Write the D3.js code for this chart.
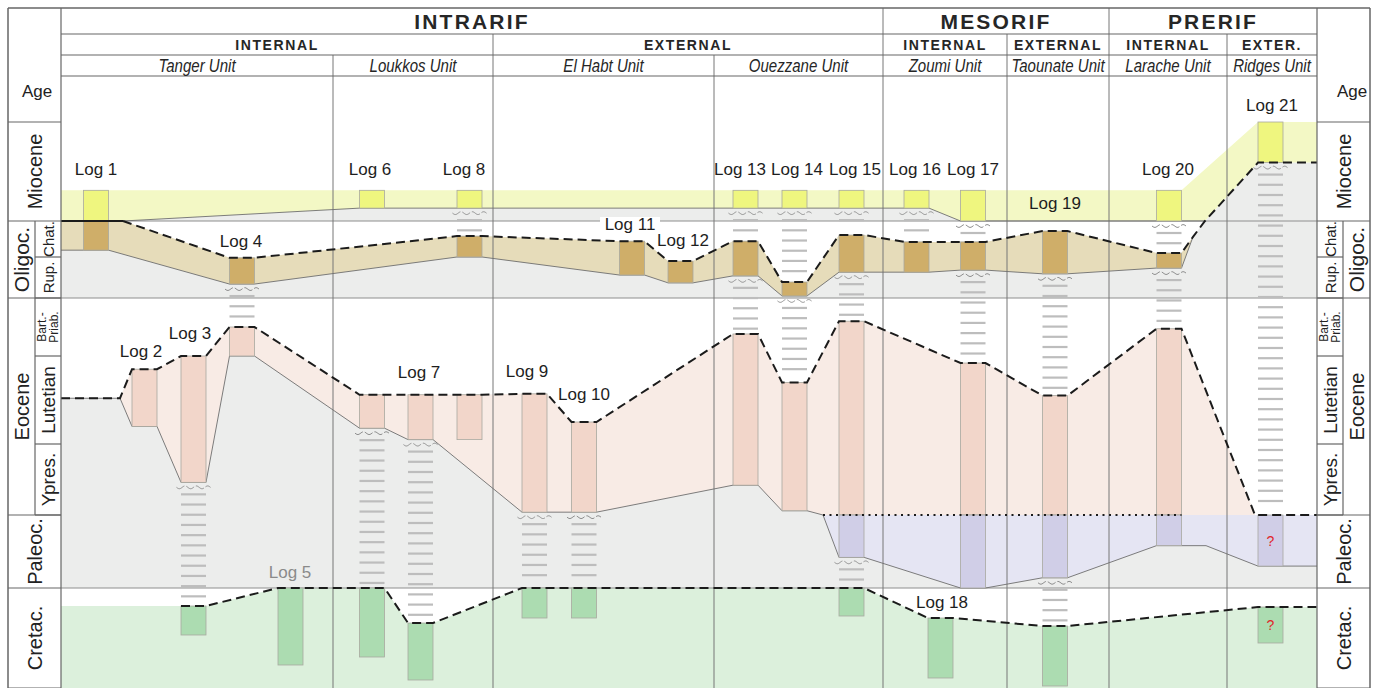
<!DOCTYPE html>
<html>
<head>
<meta charset="utf-8">
<script src="https://cdn.jsdelivr.net/npm/d3@7"></script>
<style>
body { margin: 0; background: #fff; }
svg { display: block; }
text { font-family: "Liberation Sans", Arial, sans-serif; }
</style>
</head>
<body>
<div id="chart"></div>
<script>
// x = distance along the section (arbitrary units), y = stratigraphic level
// (0 = top Miocene, 1 = top Oligocene/Chattian, 2 = Rupelian, 3 = top Eocene,
//  4 = top Lutetian, 5 = top Ypresian, 6 = top Paleocene, 7 = top Cretaceous)
var logNames = ["Log 1","Log 2","Log 3","Log 4","Log 5","Log 6","Log 7","Log 8","Log 9","Log 10",
                "Log 11","Log 12","Log 13","Log 14","Log 15","Log 16","Log 17","Log 18","Log 19","Log 20","Log 21"];
var logX = [17.5, 41.75, 66.25, 90.5, 114.75, 155.5, 179.75, 204.25, 236.75, 261.5,
            285.5, 309.75, 342.25, 366.75, 395.25, 427.75, 456, 439.75, 497, 554, 604.75];
var labelX = [17.5, 40, 64.5, 90, 114.5, 154.5, 179, 201.5, 233, 261.5,
              284.5, 311, 339.5, 368, 397, 427, 456, 440.5, 497, 553.5, 605.5];
var labelY = [0.48, 3.93, 3.62, 1.58, 6.79, 0.48, 4.19, 0.48, 4.18, 4.44,
              1.11, 1.53, 0.48, 0.48, 0.48, 0.48, 0.48, 7.14, 0.82, 0.48, -0.17];

// [log number, top level, base level, flag]
var miocene = [[1,0.69,1.0],[6,0.69,0.87],[8,0.69,0.87],[13,0.69,0.87],[14,0.69,0.87],
               [15,0.69,0.87],[16,0.69,0.87],[17,0.69,1.0],[20,0.69,1.0],[21,0,0.41]];
var oligocene = [[1,1.0,1.81],[4,2.02,2.66],[8,1.42,2.0],[11,1.56,2.44],[12,2.10,2.63],[13,1.56,2.46],
                 [14,2.61,2.95],[15,1.39,2.37],[16,1.58,2.37],[17,1.58,2.32],[19,1.28,2.41],[20,1.89,2.27]];
var eocene = [[2,4.15,4.80],[3,4.0,5.54],[4,3.50,4.0],[6,4.44,4.82],[7,4.44,4.95],[8,4.44,4.95],
              [9,4.43,5.96],[10,4.75,5.96],[13,3.62,5.58],[14,4.30,5.94],[15,3.40,6.0],[17,4.08,6.0],
              [19,4.45,6.0],[20,3.53,6.0]];
var paleocene = [[15,6.0,6.58],[17,6.0,7.0],[19,6.0,6.86],[20,6.0,6.42],[21,6.0,6.70,"?"]];
var cretaceous = [[3,7.18,7.47],[5,7.0,7.77],[6,7.0,7.69],[7,7.35,7.92],[9,7.0,7.30],[10,7.0,7.30],
                  [15,7.0,7.28],[18,7.30,7.90],[19,7.38,7.98],[21,7.19,7.55,"?"]];
var eoceneFloating = [8];

// envelope points between the logs
var mioTopExtra = [[0,0.69],[628,0]];
var mioBaseExtra = [[0,1.0],[31,1.0],[572,1.0],[628,0.41]];
var oliTopExtra = [[0,1.0],[31,1.0],[566,1.44]];
var oliBaseExtra = [[0,1.81],[566,1.44]];
var eoTopExtra = [[0,4.48],[29.5,4.48],[597,6.0],[628,6.0]];
var eoBaseExtra = [[0,4.48],[29.5,4.48],[381,6.0],[597,6.0]];
var paTopExtra = [[381,6.0],[628,6.0]];
var paBaseExtra = [[381,6.0],[572.5,6.42],[628,6.70]];
var crTopExtra = [[0,7.18],[628,7.19]];

// hiatus intervals shown with dashes: [log, from, to]
var hiatus = [[3,5.54,7.18],[4,2.66,3.50],[6,4.82,7.0],[7,4.95,7.35],[8,0.87,1.42],[9,5.96,7.0],
              [10,5.96,7.0],[13,0.87,1.56],[13,2.46,3.62],[14,0.87,2.61],[14,2.95,4.30],[15,0.87,1.39],
              [15,2.37,3.40],[15,6.58,7.0],[16,0.87,1.58],[17,1.0,1.58],[17,2.32,4.08],[19,2.41,4.45],
              [19,6.86,7.38],[20,1.0,1.89],[20,2.27,3.53],[21,0.41,6.0]];

var groups = [["INTRARIF",0,411],["MESORIF",411,524],["PRERIF",524,628]];
var zones = [["INTERNAL",0,216],["EXTERNAL",216,411],["INTERNAL",411,473],["EXTERNAL",473,524],
             ["INTERNAL",524,583],["EXTER.",583,628]];
var units = [["Tanger Unit",0,136],["Loukkos Unit",136,216],["El Habt Unit",216,326.5],
             ["Ouezzane Unit",326.5,411],["Zoumi Unit",411,473],["Taounate Unit",473,524],
             ["Larache Unit",524,583],["Ridges Unit",583,628]];
var epochs = [["Miocene",0,1,true],["Oligoc.",1,3,false],["Eocene",3,6,false],
              ["Paleoc.",6,7,true],["Cretac.",7,8,true]];
var stageNames = [["Chat.",1,2],["Rup.",2,3],["Bart.-|Priab.",3,4],["Lutetian",4,5],["Ypres.",5,6]];

var width = 1375, height = 688;
var svg = d3.select("#chart").append("svg").attr("width", width).attr("height", height);

var x = d3.scaleLinear().domain([0, 628]).range([61, 1317]);
var y = d3.scaleLinear().domain([0,1,2,3,4,5,6,7,8]).range([122,221,257,298,356,444,515,588,688]);
var hw = 6.25;   // half width of a log column
var line = d3.line().x(function(d){ return x(d[0]); }).y(function(d){ return y(d[1]); });

var edge = function(boxes, extra, k, skip){
    var pts = extra.map(function(p){ return p.slice(); });
    boxes.forEach(function(b){
        if (skip && skip.indexOf(b[0]) >= 0) return;
        var c = logX[b[0]-1];
        pts.push([c-hw, b[k]], [c+hw, b[k]]);
    });
    pts.sort(function(a, b){ return a[0]-b[0]; });
    return pts;
};

var mioTop = edge(miocene, mioTopExtra, 1), mioBase = edge(miocene, mioBaseExtra, 2);
var oliTop = edge(oligocene, oliTopExtra, 1), oliBase = edge(oligocene, oliBaseExtra, 2);
var eoTop = edge(eocene, eoTopExtra, 1), eoBase = edge(eocene, eoBaseExtra, 2, eoceneFloating);
var paTop = edge(paleocene, paTopExtra, 1), paBase = edge(paleocene, paBaseExtra, 2);
var crTop = edge(cretaceous, crTopExtra, 1);

var gray = "#ecedec";
var poly = function(pts, fill){
    svg.append("path").attr("d", line(pts) + "Z").attr("fill", fill).attr("stroke", "none");
};

// background: hiatus grey, then white above erosion surfaces
poly(mioBase.concat([[628,7],[0,7]]), gray);
poly(oliTop.concat([[572,1]]), "#fff");
poly(eoTop.concat([[628,3],[0,3]]), "#fff");
poly(crTop.concat([[628,7],[0,7]]), "#fff");

// formation envelopes
poly(mioTop.concat(mioBase.slice().reverse()), "#f3f8c5");
poly(oliTop.concat(oliBase.slice().reverse()), "#e6dcba");
poly(eoTop.concat(eoBase.slice().reverse()), "#f8ebe5");
poly(paTop.concat(paBase.slice().reverse()), "#e5e5f3");
poly(crTop.concat([[628,8],[0,8]]), "#dcf0dc");

// stripe lines
[1, 3, 7].forEach(function(l){
    svg.append("line").attr("x1", x(0)).attr("x2", x(628)).attr("y1", y(l)).attr("y2", y(l))
        .attr("stroke", "#8e8e8e").attr("stroke-width", 1);
});

// unit dividers
var groupB = groups.map(function(g){ return g[2]; });
var zoneB = zones.map(function(z){ return z[2]; });
units.slice(0, -1).forEach(function(u){
    var b = u[2];
    var top = groupB.indexOf(b) >= 0 ? 8 : (zoneB.indexOf(b) >= 0 ? 34 : 55);
    svg.append("line").attr("x1", x(b)).attr("x2", x(b)).attr("y1", top).attr("y2", height)
        .attr("stroke", "#777").attr("stroke-width", 1);
});

// base contacts
var thin = function(pts){
    svg.append("path").attr("d", line(pts)).attr("fill", "none")
        .attr("stroke", "#6e6e6e").attr("stroke-width", 0.9);
};
thin(mioBase.filter(function(p){ return p[0] >= 31 && p[0] <= 572; }));
thin(oliBase);
thin(eoBase.filter(function(p){ return p[0] <= 381; }));
thin(paBase);

// hiatus dashes and wavy unconformity marks
hiatus.forEach(function(h){
    var c = x(logX[h[0]-1]), t = y(h[1]), b = y(h[2]);
    for (var yy = t + 12; yy <= b - 5; yy += 10.2) {
        svg.append("line").attr("x1", c-12.5).attr("x2", c+12.5).attr("y1", yy).attr("y2", yy)
            .attr("stroke", "#bdbdbd").attr("stroke-width", 2.2);
    }
    var wave = d3.range(0, 35, 1).map(function(i){
        return [c - 17 + i, t + 5 + 1.4*Math.sin(i/34*3*2*Math.PI)];
    });
    svg.append("path").attr("d", d3.line()(wave)).attr("fill", "none")
        .attr("stroke", "#8f8f8f").attr("stroke-width", 1).attr("stroke-dasharray", "9,2");
});

// log columns
var drawBoxes = function(boxes, fill){
    boxes.forEach(function(b){
        var c = logX[b[0]-1];
        svg.append("rect")
            .attr("x", x(c-hw)).attr("y", y(b[1]))
            .attr("width", x(c+hw)-x(c-hw)).attr("height", y(b[2])-y(b[1]))
            .attr("fill", fill).attr("stroke", "#a9a9a0").attr("stroke-width", 0.8);
        if (b[3] == "?") {
            svg.append("text").attr("x", x(c)).attr("y", (y(b[1])+y(b[2]))/2)
                .attr("text-anchor", "middle").attr("dominant-baseline", "central")
                .attr("font-size", 14).attr("fill", "#e0262b").text("?");
        }
    });
};
drawBoxes(miocene, "#eff67f");
drawBoxes(oligocene, "#cfae69");
drawBoxes(eocene, "#f2d6ca");
drawBoxes(paleocene, "#d0cee7");
drawBoxes(cretaceous, "#acdcb1");

// erosion surfaces
var dashed = function(pts){
    svg.append("path").attr("d", line(pts)).attr("fill", "none")
        .attr("stroke", "#1b1b1b").attr("stroke-width", 2).attr("stroke-dasharray", "9,5");
};
svg.append("path").attr("d", line(oliTop.filter(function(p){ return p[0] <= 31; })))
    .attr("fill", "none").attr("stroke", "#1b1b1b").attr("stroke-width", 2);
dashed(oliTop.filter(function(p){ return p[0] >= 31; })
    .concat(mioBase.filter(function(p){ return p[0] >= 572; })));
dashed(eoTop);
dashed(crTop.filter(function(p){ return p[0] >= 3; }));
svg.append("path").attr("d", line(paTop.filter(function(p){ return p[0] <= 597; })))
    .attr("fill", "none").attr("stroke", "#1b1b1b").attr("stroke-width", 2)
    .attr("stroke-dasharray", "2,4.5");

// log labels
logNames.forEach(function(n, i){
    var lx = x(labelX[i]), ly = y(labelY[i]);
    if (n == "Log 11") {
        svg.append("rect").attr("x", lx-30).attr("y", ly-8).attr("width", 60).attr("height", 16)
            .attr("fill", "#fff");
    }
    svg.append("text").attr("x", lx).attr("y", ly)
        .attr("text-anchor", "middle").attr("dominant-baseline", "central")
        .attr("font-size", 17).attr("fill", n == "Log 5" ? "#8a8a8a" : "#1e1e1e").text(n);
});

// header
var frame = function(x1, y1, x2, y2, w){
    svg.append("line").attr("x1", x1).attr("y1", y1).attr("x2", x2).attr("y2", y2)
        .attr("stroke", "#666").attr("stroke-width", w || 1.2);
};
[8, 34, 55, 76].forEach(function(yy, i){ frame(i == 0 ? 8 : 61, yy, i == 0 ? 1370 : 1317, yy, i == 0 ? 1.5 : 1.2); });
frame(8, 8, 8, height, 1.5); frame(1370, 8, 1370, height, 1.5);
frame(61, 8, 61, height); frame(1317, 8, 1317, height);

var headRow = function(rows, cy, size, weight, style, spacing, squeeze){
    rows.forEach(function(r){
        var cx = (x(r[1]) + x(r[2]))/2;
        svg.append("text")
            .attr("transform", "translate(" + cx + "," + cy + ") scale(" + squeeze + ",1)")
            .attr("text-anchor", "middle").attr("dominant-baseline", "central")
            .attr("font-size", size).attr("font-weight", weight).attr("font-style", style)
            .attr("letter-spacing", spacing).attr("fill", "#262626").text(r[0]);
    });
};
headRow(groups, 21.5, 21, "bold", "normal", 2.2, 1);
headRow(zones, 45, 14, "bold", "normal", 1.6, 1);
headRow(units, 66, 17.5, "normal", "italic", 0, 0.86);

// age columns
var sides = [{a: 8, m: 35, b: 61, ageX: 37, epochSide: 0}, {a: 1317, m: 1343, b: 1370, ageX: 1352, epochSide: 1}];
sides.forEach(function(s){
    frame(s.a, y(0), s.b, y(0));
    svg.append("text").attr("x", s.ageX).attr("y", 91).attr("text-anchor", "middle")
        .attr("dominant-baseline", "central").attr("font-size", 17).attr("fill", "#222").text("Age");
    var epochX0 = s.epochSide == 0 ? s.a : s.m, epochX1 = s.epochSide == 0 ? s.m : s.b;
    var stageX0 = s.epochSide == 0 ? s.m : s.a, stageX1 = s.epochSide == 0 ? s.b : s.m;
    frame(s.m, y(1), s.m, y(6));
    epochs.forEach(function(e){
        frame(s.a, y(e[2]), s.b, y(e[2]));
        var cx = e[3] ? (s.a + s.b)/2 : (epochX0 + epochX1)/2, cy = (y(e[1]) + y(e[2]))/2;
        svg.append("text").attr("transform", "translate(" + cx + "," + cy + ") rotate(-90)")
            .attr("text-anchor", "middle").attr("dominant-baseline", "central")
            .attr("font-size", e[0] == "Oligoc." ? 21 : 20).attr("fill", "#222").text(e[0]);
    });
    stageNames.forEach(function(st){
        frame(stageX0, y(st[2]), stageX1, y(st[2]));
        var cx = (stageX0 + stageX1)/2, cy = (y(st[1]) + y(st[2]))/2;
        var parts = st[0].split("|");
        var size = parts.length > 1 ? 12 : (st[0].length <= 5 ? 15 : 19);
        parts.forEach(function(p, j){
            var off = parts.length > 1 ? (j - 0.5) * 12 : 0;
            svg.append("text").attr("transform", "translate(" + (cx + off) + "," + cy + ") rotate(-90)")
                .attr("text-anchor", "middle").attr("dominant-baseline", "central")
                .attr("font-size", size).attr("fill", "#222").text(p);
        });
    });
});
</script>
</body>
</html>
